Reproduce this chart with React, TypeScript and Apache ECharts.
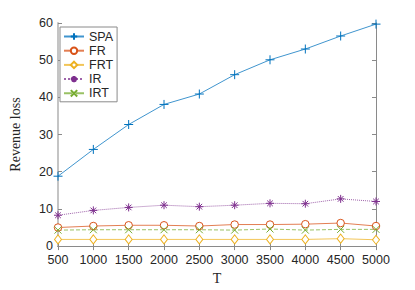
import React, { useEffect, useRef } from "react";
import * as echarts from "echarts";

const T = [500, 1000, 1500, 2000, 2500, 3000, 3500, 4000, 4500, 5000];
const SPA = [18.8, 26.0, 32.7, 38.1, 40.9, 46.1, 50.1, 53.0, 56.5, 59.7];
const FR = [5.0, 5.4, 5.6, 5.6, 5.4, 5.8, 5.8, 5.9, 6.2, 5.4];
const FRT = [1.8, 1.8, 1.8, 1.8, 1.8, 1.8, 1.8, 1.8, 2.0, 1.7];
const IR = [8.3, 9.6, 10.4, 11.0, 10.6, 11.0, 11.5, 11.4, 12.7, 12.0];
const IRT = [4.3, 4.4, 4.4, 4.4, 4.4, 4.3, 4.6, 4.3, 4.5, 4.5];
const yTicks = [0, 10, 20, 30, 40, 50, 60];

const PLUS = "path://M5,0L5,10M0,5L10,5";
const CROSS = "path://M0,0L10,10M10,0L0,10";
const STAR = "path://M5,0L5,10M0,5L10,5M1.5,1.5L8.5,8.5M8.5,1.5L1.5,8.5";
const CIRCLE = "path://M10,5A5,5 0 1 1 0,5A5,5 0 1 1 10,5Z";
const DIAMOND = "path://M4,0L8,5L4,10L0,5Z";

export default function App() {
  const ref = useRef<HTMLDivElement>(null);
  useEffect(() => {
    const chart = echarts.init(ref.current!, null, { renderer: "svg" });
    const mk = (name: string, vals: number[], color: string, symbol: string, size: any, type: string, hollow: boolean) => ({
      name,
      type: "line",
      data: T.map((t, i) => [t, vals[i]]),
      symbol,
      symbolSize: size,
      showSymbol: true,
      lineStyle: { color, width: 1, type, opacity: 0.75 },
      itemStyle: { color: hollow ? "#fff" : color, borderColor: color, borderWidth: 1 },
      emphasis: { disabled: true },
      z: 3,
    });
    const axisColor = "#8a8a8a";
    const names = ["SPA", "FR", "FRT", "IR", "IRT"];
    chart.setOption({
      animation: false,
      backgroundColor: "#fff",
      textStyle: { fontFamily: "Liberation Sans" },
      grid: { left: 54, right: 39, top: 23, bottom: 38, containLabel: false },
      legend: {
        orient: "vertical",
        left: 60,
        top: 27,
        itemWidth: 20,
        itemHeight: 8,
        itemGap: 1.2,
        padding: [3, 4, 2, 3],
        backgroundColor: "#fff",
        borderColor: "#8a8a8a",
        borderWidth: 1,
        textStyle: { fontSize: 12.5, color: "#262626", fontFamily: "Liberation Sans" },
        data: names,
      },
      xAxis: [
        {
          type: "value",
          min: 500,
          max: 5000,
          interval: 500,
          name: "T",
          nameLocation: "middle",
          nameGap: 23,
          nameTextStyle: { fontFamily: "Liberation Serif", fontSize: 14, color: "#262626" },
          axisLine: { lineStyle: { color: "#6e6e6e" } },
          axisTick: { inside: true, length: 4, lineStyle: { color: axisColor } },
          axisLabel: { fontSize: 12.5, color: "#262626", margin: 7, formatter: (v: number) => String(v) },
          splitLine: { show: false },
        },
        {
          type: "value",
          position: "top",
          min: 500,
          max: 5000,
          interval: 500,
          axisLine: { show: true, lineStyle: { color: axisColor } },
          axisTick: { inside: true, length: 4, lineStyle: { color: axisColor } },
          axisLabel: { show: false },
          splitLine: { show: false },
        },
      ],
      yAxis: [
        {
          type: "value",
          min: 0,
          max: 60,
          interval: 10,
          name: "Revenue loss",
          nameLocation: "middle",
          nameGap: 36,
          nameTextStyle: { fontFamily: "Liberation Serif", fontSize: 14, color: "#262626" },
          axisLine: { show: true, lineStyle: { color: "#c4c4c4", width: 2 } },
          axisTick: { inside: true, length: 4, lineStyle: { color: axisColor } },
          axisLabel: {
            fontSize: 12.5,
            color: "#262626",
            margin: 5,
            formatter: (v: number) => (yTicks.includes(v) ? String(v) : ""),
          },
          splitLine: { show: false },
        },
        {
          type: "value",
          position: "right",
          min: 0,
          max: 60,
          interval: 10,
          axisLine: { show: true, lineStyle: { color: axisColor } },
          axisTick: { inside: true, length: 4, lineStyle: { color: axisColor } },
          axisLabel: { show: false },
          splitLine: { show: false },
        },
      ],
      series: [
        mk("SPA", SPA, "#0072BD", PLUS, 9, "solid", false),
        mk("FR", FR, "#D95319", CIRCLE, 7.5, "solid", true),
        mk("FRT", FRT, "#EDB120", DIAMOND, [7, 9], "solid", true),
        mk("IR", IR, "#7E2F8E", STAR, 8, "dotted", false),
        mk("IRT", IRT, "#77AC30", CROSS, 7, "dashed", false),
      ],
    });
    return () => chart.dispose();
  }, []);
  return <div ref={ref} style={{ width: 415, height: 290, position: "absolute", left: 0, top: 0 }} />;
}
